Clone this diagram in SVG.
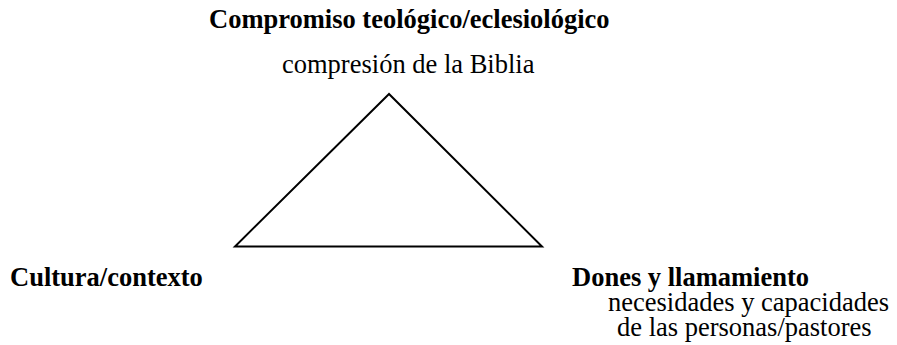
<svg xmlns="http://www.w3.org/2000/svg" width="897" height="345" viewBox="0 0 897 345">
<style>
text{font-family:"Liberation Serif","Times New Roman",serif;font-size:26.5px;fill:#000}
.b{font-weight:bold}
.edge{fill:none;stroke:#000;stroke-width:2}
</style>
<rect width="897" height="345" fill="#fff"/>
<g id="connectors">
<polygon class="edge" points="389,94 235,246.5 542,246.5"/>
</g>
<g id="top">
<text class="b" x="209" y="28">Compromiso teológico/eclesiológico</text>
<text x="282" y="73">compresión de la Biblia</text>
</g>
<g id="left">
<text class="b" x="10" y="286">Cultura/contexto</text>
</g>
<g id="right">
<text class="b" x="572" y="286">Dones y llamamiento</text>
<text x="608" y="311">necesidades y capacidades</text>
<text x="617" y="336">de las personas/pastores</text>
</g>
</svg>
